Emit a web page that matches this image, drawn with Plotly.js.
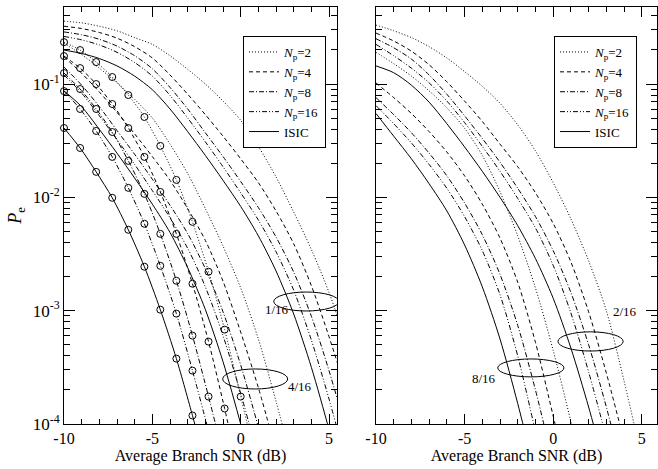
<!DOCTYPE html>
<html><head><meta charset="utf-8">
<script src="https://cdn.plot.ly/plotly-3.0.1.min.js"></script>
<style>html,body{margin:0;padding:0;background:#fff}</style>
</head><body><div id="chart" style="width:658px;height:469px"></div>
<script>
// ---- data (log10 of Pe) ----
const snrGrid = [-10,-9,-8,-7,-6,-5,-4,-3,-2,-1,0,1,2,3,4,5,6,7];
const seriesLabels = ['<i>N</i><sub>p</sub>=2','<i>N</i><sub>p</sub>=4','<i>N</i><sub>p</sub>=8','<i>N</i><sub>p</sub>=16','ISIC'];
const xTickVals = [-10,-5,0,5];
const xTickText = ['-10','-5','0','5'];
const yTickVals = [1e-4,1e-3,1e-2,1e-1];
const yTickText = ['10<sup>-4</sup>','10<sup>-3</sup>','10<sup>-2</sup>','10<sup>-1</sup>'];

// left panel, group "1/16"
const g1_np2  = [-0.445,-0.46,-0.49,-0.53,-0.59,-0.65,-0.75,-0.87,-1.00,-1.15,-1.32,-1.55,-1.82,-2.13,-2.46,-2.84,-3.30,-3.85];
const g1_np4  = [-0.49,-0.51,-0.545,-0.595,-0.67,-0.77,-0.92,-1.09,-1.27,-1.46,-1.66,-1.87,-2.12,-2.41,-2.78,-3.23,-3.73,-4.30];
const g1_np8  = [-0.54,-0.565,-0.605,-0.665,-0.75,-0.865,-1.03,-1.22,-1.43,-1.64,-1.86,-2.09,-2.35,-2.66,-3.05,-3.53,-4.08,-4.70];
const g1_np16 = [-0.58,-0.61,-0.655,-0.72,-0.81,-0.93,-1.10,-1.30,-1.51,-1.73,-1.96,-2.20,-2.48,-2.82,-3.26,-3.78,-4.36];
const g1_isic = [-0.70,-0.73,-0.775,-0.84,-0.93,-1.05,-1.22,-1.42,-1.63,-1.85,-2.08,-2.34,-2.65,-3.03,-3.50,-4.05,-4.65];

// left panel, group "4/16"
const g4_np2  = [-0.64,-0.74,-0.86,-0.99,-1.135,-1.30,-1.53,-1.79,-2.10,-2.43,-2.80,-3.25,-3.80,-4.39];
const g4_np4  = [-0.76,-0.905,-1.07,-1.25,-1.44,-1.64,-1.85,-2.10,-2.38,-2.74,-3.19,-3.68,-4.24];
const g4_np8  = [-0.85,-1.01,-1.20,-1.41,-1.62,-1.84,-2.07,-2.32,-2.63,-3.01,-3.48,-4.03,-4.64];
const g4_np16 = [-0.92,-1.08,-1.28,-1.49,-1.71,-1.94,-2.18,-2.45,-2.79,-3.22,-3.73,-4.30];
const g4_isic = [-1.06,-1.20,-1.40,-1.61,-1.83,-2.06,-2.31,-2.62,-2.99,-3.45,-4.00,-4.59];

// right panel, group "2/16"
const g2_np2  = [-0.48,-0.53,-0.59,-0.67,-0.77,-0.89,-1.02,-1.17,-1.36,-1.59,-1.87,-2.19,-2.56,-3.00,-3.62,-4.30];
const g2_np4  = [-0.55,-0.62,-0.71,-0.83,-0.98,-1.15,-1.33,-1.53,-1.73,-1.96,-2.23,-2.57,-3.01,-3.55,-4.15];
const g2_np8  = [-0.60,-0.68,-0.78,-0.92,-1.09,-1.28,-1.48,-1.69,-1.92,-2.17,-2.47,-2.84,-3.30,-3.85,-4.46];
const g2_np16 = [-0.65,-0.75,-0.86,-0.99,-1.15,-1.34,-1.55,-1.77,-2.01,-2.27,-2.60,-3.02,-3.54,-4.12];
const g2_isic = [-0.84,-0.90,-1.01,-1.16,-1.35,-1.555,-1.77,-2.00,-2.25,-2.54,-2.89,-3.33,-3.85,-4.43];

// right panel, group "8/16"
const g8_np2  = [-0.72,-0.82,-0.93,-1.06,-1.21,-1.39,-1.63,-1.95,-2.34,-2.80,-3.35,-3.98,-4.65];
const g8_np4  = [-0.99,-1.12,-1.26,-1.42,-1.60,-1.81,-2.06,-2.36,-2.75,-3.28,-3.93,-4.60];
const g8_np8  = [-1.12,-1.27,-1.43,-1.61,-1.81,-2.05,-2.33,-2.68,-3.13,-3.70,-4.35];
const g8_np16 = [-1.19,-1.35,-1.52,-1.71,-1.92,-2.17,-2.47,-2.86,-3.40,-4.07];
const g8_isic = [-1.26,-1.46,-1.66,-1.88,-2.12,-2.42,-2.79,-3.25,-3.82,-4.45];

// left panel, simulated points (circles)
const simSNR = [-10,-9.09,-8.18,-7.27,-6.36,-5.45,-4.55,-3.64,-2.73,-1.82,-0.91,0];
const sim_np2  = [-0.630,-0.700,-0.806,-0.938,-1.097,-1.291,-1.546,-1.846,-2.216,-2.656,-3.167,-3.758];
const sim_np4  = [-0.753,-0.859,-1.000,-1.176,-1.388,-1.643,-1.952,-2.322,-2.762,-3.273,-3.863];
const sim_np8  = [-0.903,-1.044,-1.220,-1.423,-1.678,-1.969,-2.322,-2.736,-3.220,-3.758];
const sim_np16 = [-1.062,-1.220,-1.414,-1.643,-1.916,-2.233,-2.604,-3.026,-3.529];
const sim_isic = [-1.388,-1.564,-1.775,-2.004,-2.286,-2.612,-2.991,-3.423,-3.925];
// where each simulated line leaves the plot at the bottom
const simTailSNR   = [0.45,-0.6,-1.3,-1.82,-2.5];
const simTailLogPe = [-4.05,-4.08,-4.08,-4.06,-4.06];

// ---- styles ----
const dashes = ['1px,2px','4px,3px','5px,2px,1px,2px','5px,2px,1px,2px,1px,2px','solid'];
const toPe = a => a.map(v => Math.pow(10, v));

const traces = [];
function addGroup(arrs, xa, ya, legendId, show) {
  arrs.forEach((a, i) => {
    traces.push({
      type:'scatter', mode:'lines', x: snrGrid.slice(0, a.length), y: toPe(a),
      xaxis: xa, yaxis: ya, name: seriesLabels[i], legend: legendId, showlegend: show,
      line:{color:'black', width:1, dash:dashes[i], shape:'spline', smoothing:0.8},
      hoverinfo:'skip'
    });
  });
}
addGroup([g1_np2,g1_np4,g1_np8,g1_np16,g1_isic], 'x', 'y', 'legend', true);
addGroup([g4_np2,g4_np4,g4_np8,g4_np16,g4_isic], 'x', 'y', 'legend', false);
addGroup([g2_np2,g2_np4,g2_np8,g2_np16,g2_isic], 'x2', 'y2', 'legend2', true);
addGroup([g8_np2,g8_np4,g8_np8,g8_np16,g8_isic], 'x2', 'y2', 'legend2', false);

[sim_np2, sim_np4, sim_np8, sim_np16, sim_isic].forEach((a, i) => {
  const xs = simSNR.slice(0, a.length);
  traces.push({
    type:'scatter', mode:'lines', x: xs.concat([simTailSNR[i]]), y: toPe(a.concat([simTailLogPe[i]])),
    xaxis:'x', yaxis:'y', showlegend:false, hoverinfo:'skip',
    line:{color:'black', width:1, dash:dashes[i], shape:'spline', smoothing:0.8}
  });
  traces.push({
    type:'scatter', mode:'markers', x: xs, y: toPe(a), xaxis:'x', yaxis:'y',
    showlegend:false, hoverinfo:'skip', cliponaxis:false,
    marker:{symbol:'circle-open', size:7, color:'black', line:{width:1, color:'black'}}
  });
});

const xAxisBase = {
  range:[-10, 5.45], tickmode:'array', tickvals:xTickVals, ticktext:xTickText,
  ticks:'inside', ticklen:10, tickwidth:1, tickcolor:'black',
  showline:true, linecolor:'black', linewidth:1, mirror:'ticks', showgrid:false, zeroline:false,
  minor:{tickmode:'linear', tick0:-10, dtick:1, ticks:'inside', ticklen:5, tickwidth:1, tickcolor:'black', showgrid:false},
  tickfont:{size:16}, title:{text:'Average Branch SNR (dB)', font:{size:16}, standoff:1}
};
const yAxisBase = {
  type:'log', range:[-4, -0.32], tickmode:'array', tickvals:yTickVals, ticktext:yTickText,
  ticks:'inside', ticklen:11, tickwidth:1, tickcolor:'black',
  showline:true, linecolor:'black', linewidth:1, mirror:'ticks', showgrid:false, zeroline:false,
  tickfont:{size:17},
  minor:{tickmode:'linear', dtick:'D1', ticks:'inside', ticklen:6, tickwidth:1, tickcolor:'black', showgrid:false}
};
const legendBase = {
  xanchor:'left', yanchor:'top', y:0.9305, bgcolor:'white', bordercolor:'black', borderwidth:1,
  font:{size:13}, itemwidth:30, tracegroupgap:0, entrywidth:48, entrywidthmode:'pixels'
};

const layout = {
  width:658, height:469, margin:{l:0, r:0, t:7, b:45},
  paper_bgcolor:'white', plot_bgcolor:'white',
  font:{family:'Liberation Serif, Times New Roman, serif', color:'black', size:16},
  xaxis: Object.assign({}, xAxisBase, {domain:[64/658, 337/658], anchor:'y'}),
  xaxis2: Object.assign({}, xAxisBase, {domain:[376/658, 657/658], anchor:'y2', range:[-10, 5.86]}),
  yaxis: Object.assign({}, yAxisBase, {anchor:'x', title:{text:'<i>P</i><sub>e</sub>', font:{size:18}, standoff:6}}),
  yaxis2: Object.assign({}, yAxisBase, {anchor:'x2', showticklabels:false}),
  legend: Object.assign({}, legendBase, {x:243/658}),
  legend2: Object.assign({}, legendBase, {x:554/658}),
  shapes: [
    {type:'circle', xref:'x', yref:'paper', x0:1.87, x1:5.55, y0:0.271, y1:0.3165, line:{color:'black', width:1}},
    {type:'circle', xref:'x', yref:'paper', x0:-1.02, x1:2.66, y0:0.084, y1:0.132, line:{color:'black', width:1}},
    {type:'circle', xref:'x2', yref:'paper', x0:0.27, x1:3.95, y0:0.175, y1:0.221, line:{color:'black', width:1}},
    {type:'circle', xref:'x2', yref:'paper', x0:-3.13, x1:0.61, y0:0.113, y1:0.156, line:{color:'black', width:1}}
  ],
  annotations: [
    {xref:'x', yref:'paper', x:2.04, y:0.252, text:'1/16', showarrow:false, font:{size:13}},
    {xref:'x', yref:'paper', x:3.34, y:0.067, text:'4/16', showarrow:false, font:{size:13}},
    {xref:'x2', yref:'paper', x:4.06, y:0.247, text:'2/16', showarrow:false, font:{size:13}},
    {xref:'x2', yref:'paper', x:-3.92, y:0.086, text:'8/16', showarrow:false, font:{size:13}}
  ]
};

Plotly.newPlot('chart', traces, layout, {staticPlot:true, displayModeBar:false});
</script>
</body></html>
